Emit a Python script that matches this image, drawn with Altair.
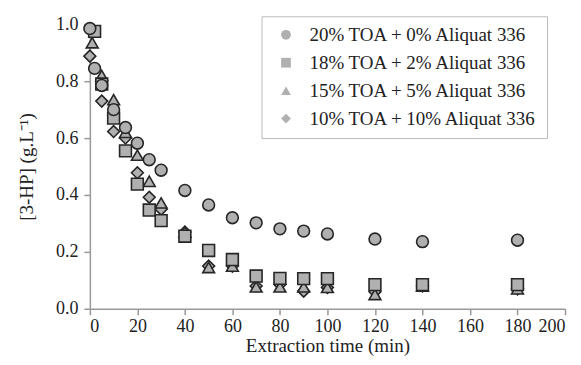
import altair as alt
import pandas as pd

series_names = [
    "20% TOA + 0% Aliquat 336",
    "18% TOA + 2% Aliquat 336",
    "15% TOA + 5% Aliquat 336",
    "10% TOA + 10% Aliquat 336",
]

t_circle = [0, 2, 5, 10, 15, 20, 25, 30, 40, 50, 60, 70, 80, 90, 100, 120, 140, 180]
v_circle = [0.985, 0.845, 0.785, 0.70, 0.637, 0.582, 0.524, 0.487, 0.416, 0.365, 0.320,
            0.302, 0.281, 0.273, 0.263, 0.245, 0.236, 0.241]

t_square = [2, 5, 10, 15, 20, 25, 30, 40, 50, 60, 70, 80, 90, 100, 120, 140, 180]
v_square = [0.975, 0.79, 0.67, 0.555, 0.438, 0.347, 0.31, 0.255, 0.205, 0.173, 0.115,
            0.107, 0.106, 0.106, 0.085, 0.085, 0.085]

t_triangle = [1, 5, 10, 15, 20, 25, 30, 40, 50, 60, 70, 80, 90, 100, 120, 140, 180]
v_triangle = [0.935, 0.82, 0.735, 0.62, 0.54, 0.448, 0.372, 0.27, 0.145, 0.15, 0.077,
              0.077, 0.077, 0.075, 0.05, 0.08, 0.07]

t_diamond = [0, 5, 10, 15, 20, 25, 30, 40, 50, 60, 70, 80, 90, 100, 120, 140, 180]
v_diamond = [0.888, 0.73, 0.623, 0.60, 0.478, 0.392, 0.35, 0.27, 0.15, 0.15, 0.08,
             0.085, 0.062, 0.075, 0.06, 0.08, 0.07]

x_ticks = [0, 20, 40, 60, 80, 100, 120, 140, 160, 180, 200]
y_ticks = [0.0, 0.2, 0.4, 0.6, 0.8, 1.0]

rows = []
# row order = drawing order: diamonds at bottom, circles on top
for name, ts, vs in [
    (series_names[3], t_diamond, v_diamond),
    (series_names[2], t_triangle, v_triangle),
    (series_names[1], t_square, v_square),
    (series_names[0], t_circle, v_circle),
]:
    for t, v in zip(ts, vs):
        rows.append({"series": name, "time": t, "conc": v})
df = pd.DataFrame(rows)

FONT = "Liberation Serif"
FILL = "#b0b0b0"
EDGE = "#262626"

points = alt.Chart(df).mark_point(
    filled=True, fill=FILL, stroke=EDGE, strokeWidth=1.6, opacity=1, size=140,
).encode(
    x=alt.X("time:Q", scale=alt.Scale(domain=[0, 200], nice=False),
            axis=alt.Axis(values=x_ticks, title="Extraction time (min)", format="d")),
    y=alt.Y("conc:Q", scale=alt.Scale(domain=[0, 1.0], nice=False),
            axis=alt.Axis(values=y_ticks, title="[3-HP] (g.L⁻¹)", format=".1f")),
    shape=alt.Shape("series:N",
                    scale=alt.Scale(domain=series_names,
                                    range=["circle", "square", "triangle-up", "diamond"]),
                    legend=alt.Legend(orient="none", legendX=172, legendY=-8)),
)

chart = points.properties(
    width=476, height=285,
    padding={"left": 82, "top": 16, "right": 8, "bottom": 48},
    autosize=alt.AutoSizeParams(type="none"),
).configure_view(stroke=None).configure_axis(
    grid=False, domainColor="#999999", tickColor="#999999", domainWidth=1.5, tickWidth=1.5,
    tickSize=6, labelFont=FONT, titleFont=FONT, labelFontSize=18, titleFontSize=19,
    labelColor="#222", titleColor="#222", titleFontWeight="normal", labelPadding=3,
).configure_axisX(titlePadding=1).configure_axisY(titlePadding=19, labelPadding=6
).configure_legend(
    title=None, padding=9, rowPadding=8, symbolSize=95,
    symbolFillColor=FILL, symbolStrokeColor=EDGE, symbolStrokeWidth=1.6,
    labelFont=FONT, labelFontSize=19, labelColor="#222", labelLimit=400,
    strokeColor="#bbbbbb", fillColor="white", symbolOffset=6, labelOffset=14,
)

chart.save("out.html", embed_options={"renderer": "svg", "actions": False})
